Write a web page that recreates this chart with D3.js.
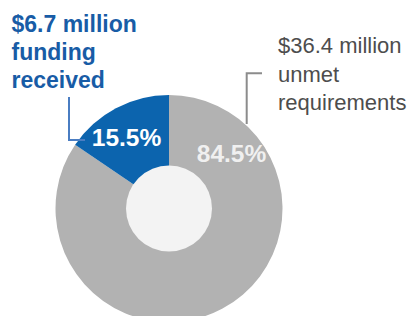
<html>
    <head>
        <script src="https://d3js.org/d3.v7.min.js"></script>
        <style>
            body { margin: 0; background: white; }
            svg text { font-family: "Liberation Sans", Arial, sans-serif; }
            .pct { font-weight: bold; font-size: 24.5px; }
            .lead { fill: none; stroke-width: 2px; }
        </style>
    </head>
    <body>
        <svg id="donut" width="411" height="316"></svg>

        <script>
            // shares in percent, pie starts at 12 o'clock going clockwise
            const categories = ["unmet", "funded"];
            const shares = [84.5, 15.5];
            const pctLabels = ["84.5%", "15.5%"];
            const funded_lines = ["$6.7 million", "funding", "received"];
            const unmet_lines = ["$36.4 million", "unmet", "requirements"];

            const svg = d3.select("#donut");
            const cx = 169, cy = 208.5;
            const outerR = 113.5, innerR = 43;

            const color = d3.scaleOrdinal().domain(categories).range(["#b2b2b2", "#0c64ae"]);

            const pie = d3.pie().sort(null).value(d => d);
            const arcs = pie(shares);
            const arcGen = d3.arc().innerRadius(0).outerRadius(outerR);

            const g = svg.append("g").attr("transform", "translate(" + cx + "," + cy + ")");

            g.selectAll("path").data(arcs).enter()
                .append("path")
                .attr("d", arcGen)
                .attr("fill", (d, i) => color(categories[i]));

            // light hole in the middle
            g.append("circle").attr("r", innerR).attr("fill", "#f3f3f3");

            // percent labels, placed by hand to match
            const pctPos = [[231.5, 161.5], [126.5, 146]];
            svg.selectAll(".pct").data(pctLabels).enter()
                .append("text")
                .attr("class", "pct")
                .attr("x", (d, i) => pctPos[i][0])
                .attr("y", (d, i) => pctPos[i][1])
                .attr("text-anchor", "middle")
                .attr("fill", (d, i) => i == 0 ? "#f0f0f0" : "white")
                .text(d => d);

            // funded annotation
            svg.append("text")
                .attr("font-size", "23px")
                .attr("font-weight", "bold")
                .attr("fill", "#185ca6")
                .selectAll("tspan").data(funded_lines).enter()
                .append("tspan")
                .attr("x", 11.5)
                .attr("y", (d, i) => 31.5 + i * 28.3)
                .text(d => d);

            svg.append("path")
                .attr("class", "lead")
                .attr("stroke", "#4a7dc2")
                .attr("d", "M69,97V140H85");

            // unmet annotation
            svg.append("text")
                .attr("font-size", "22px")
                .attr("fill", "#4d4d4d")
                .selectAll("tspan").data(unmet_lines).enter()
                .append("tspan")
                .attr("x", 278)
                .attr("y", (d, i) => 53.3 + i * 28.3)
                .text(d => d);

            svg.append("path")
                .attr("class", "lead")
                .attr("stroke", "#8c8c8c")
                .attr("d", "M262,73.3H246.7V124");
        </script>
    </body>
</html>
